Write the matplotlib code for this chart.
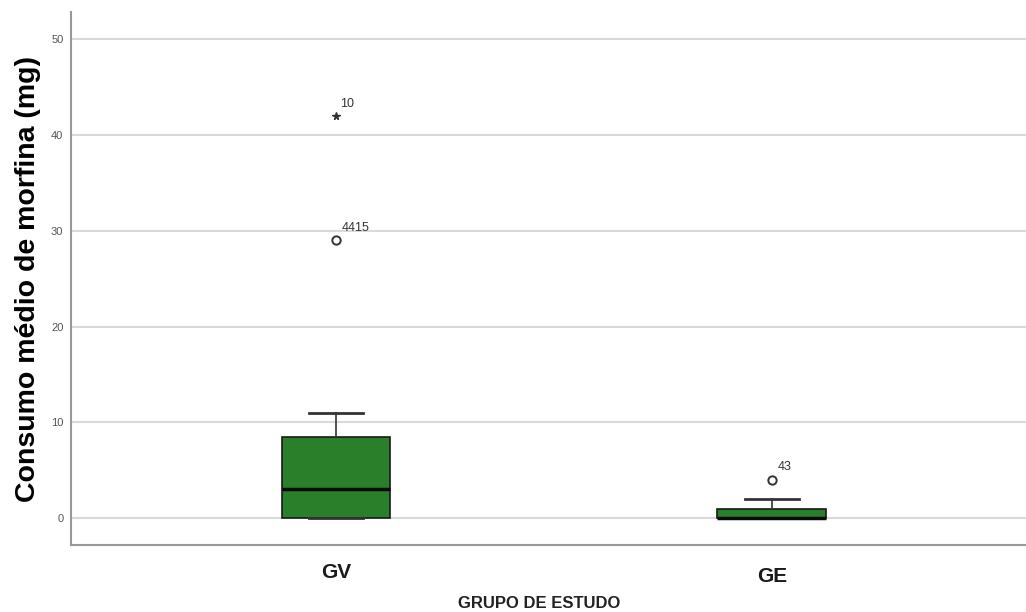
import matplotlib
matplotlib.use('Agg')
from matplotlib import pyplot as plt
from matplotlib.transforms import ScaledTranslation

plt.rcParams['font.family'] = ['Liberation Sans', 'DejaVu Sans']

grupos = ['GV', 'GE']
q1 = [0, 0]
mediana = [3, 0]
q3 = [8.5, 1]
bigode_baixo = [0, 0]
bigode_alto = [11, 2]
# outliers: (indice do grupo, valor, rotulo)
outliers_circ = [(0, 29, '4415'), (1, 4, '43')]
outliers_ext = [(0, 42, '10')]

verde = '#2a7f2b'

fig = plt.figure(figsize=(10.26, 6.12), dpi=100)
ax = fig.add_axes([0.0692, 0.1095, 0.9308, 0.8705])

stats = []
for i, g in enumerate(grupos):
    stats.append({'label': g, 'q1': q1[i], 'med': mediana[i], 'q3': q3[i],
                  'whislo': bigode_baixo[i], 'whishi': bigode_alto[i], 'fliers': []})

ax.bxp(stats, positions=[1, 2], widths=0.25, patch_artist=True, showfliers=False,
       boxprops=dict(facecolor=verde, edgecolor='#1a1a1a', linewidth=1.2),
       medianprops=dict(color='#0a0a0a', linewidth=2.5),
       whiskerprops=dict(color='#333333', linewidth=1.2),
       capprops=dict(color='#333333', linewidth=2),
       capwidths=0.125, zorder=3)

for g, v, lab in outliers_circ:
    ax.plot(g + 1, v, 'o', markerfacecolor='white', markeredgecolor='#333333',
            markersize=6, markeredgewidth=1.4, zorder=4)
    ax.annotate(lab, (g + 1, v), xytext=(4, 7), textcoords='offset points',
                fontsize=9, color='#333333')
for g, v, lab in outliers_ext:
    ax.plot(g + 1, v, '*', color='#333333', markersize=5.5, zorder=4)
    ax.annotate(lab, (g + 1, v), xytext=(3, 6), textcoords='offset points',
                fontsize=9, color='#333333')

ax.set_xlim(0.392, 2.583)
ax.set_ylim(-2.8, 52.8)
ax.set_yticks([0, 10, 20, 30, 40, 50])
ax.grid(axis='y', color='#d9d9d9', linewidth=1.5, zorder=0)
ax.set_axisbelow(True)

for s in ['top', 'right']:
    ax.spines[s].set_visible(False)
for s in ['left', 'bottom']:
    ax.spines[s].set_color('#999999')
    ax.spines[s].set_linewidth(1.5)

ax.tick_params(axis='y', length=0, pad=5.5, labelsize=8, labelcolor='#555555')
ax.tick_params(axis='x', length=0, pad=13, labelsize=15)
for t in ax.get_xticklabels():
    t.set_fontweight('bold')
    t.set_color('#1a1a1a')
# GE fica um pouco mais abaixo no original
ge = ax.get_xticklabels()[1]
ge.set_transform(ge.get_transform() + ScaledTranslation(0, -3 / 72, fig.dpi_scale_trans))

ax.set_ylabel('Consumo médio de morfina (mg)', fontsize=20.5, fontweight='bold', labelpad=7)
ax.set_xlabel('GRUPO DE ESTUDO', fontsize=12, fontweight='bold', color='#222222', labelpad=7)
ax.xaxis.set_label_coords(0.49, -0.095, transform=ax.transAxes)
ax.xaxis.label.set_va('top')

plt.savefig('out.png', dpi=100)
